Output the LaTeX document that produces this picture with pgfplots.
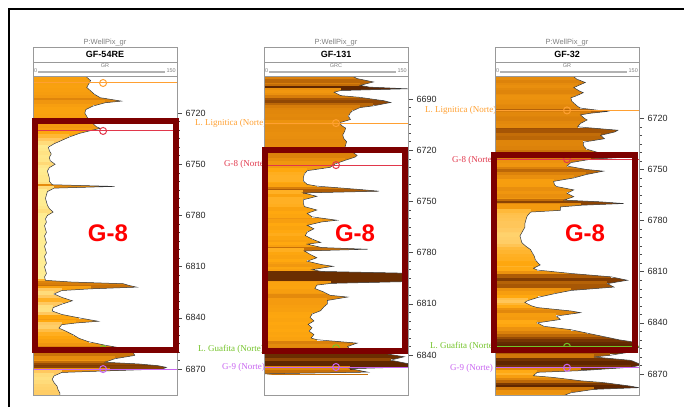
\documentclass[border=0pt]{standalone}
\usepackage{pgfplots}
\usepackage{pgfplotstable}
\pgfplotsset{compat=1.18}
\usepackage{fontspec}
\setmainfont{Liberation Sans}
\newfontfamily\serif{Liberation Serif}
\definecolor{maroon}{RGB}{125,0,0}
\definecolor{lorange}{RGB}{255,160,50}
\definecolor{lred}{RGB}{225,55,75}
\definecolor{lgreen}{RGB}{115,195,40}
\definecolor{lpurple}{RGB}{200,100,240}

\pgfplotstableread{
d gr
6697 55
6699 56
6701 60
6703 58
6705 56
6707 60
6709 64
6711 70
6713 92
6714 75
6716 62
6718 55
6720 54
6722 56
6724 58
6726 62
6728 66
6729 70
6730 62
6732 48
6734 38
6736 30
6738 22
6740 16
6742 17
6744 19
6746 17
6748 18
6750 23
6752 17
6754 15
6756 16
6758 17
6760 17
6762 20
6763 85
6764 22
6766 15
6768 14
6770 13
6772 14
6774 15
6776 17
6778 21
6780 15
6782 13
6784 14
6786 12
6788 13
6790 14
6792 12
6794 13
6796 14
6798 12
6800 13
6802 14
6804 12
6806 13
6808 14
6810 12
6812 13
6814 14
6816 12
6818 13
6819 40
6820 94
6821 100
6822 108
6823 60
6824 30
6826 22
6828 30
6830 41
6832 30
6834 21
6836 20
6838 30
6840 48
6842 68
6843 45
6844 30
6846 27
6848 35
6850 42
6852 48
6854 58
6856 75
6858 95
6860 104
6862 106
6864 85
6866 75
6867 110
6868 130
6869 139
6870 135
6871 80
6872 30
6874 22
6876 20
6878 22
6880 25
6882 26
6884 28
6886 28
}\dA

\pgfplotstableread{
d gr
6676 90
6678 97
6680 114
6682 100
6683 110
6684 150
6685 80
6686 73
6688 80
6689 100
6691 125
6692 132
6694 114
6695 100
6697 92
6698 90
6700 88
6702 90
6704 78
6706 82
6707 85
6709 84
6711 82
6713 83
6715 86
6717 85
6719 84
6721 92
6723 97
6724 95
6726 84
6728 74
6730 69
6732 45
6734 42
6736 41
6738 41
6740 45
6741 55
6743 100
6744 120
6745 41
6747 55
6749 41
6751 41
6753 42
6755 55
6757 45
6759 50
6761 76
6762 60
6764 45
6766 52
6768 45
6770 43
6772 50
6774 59
6775 45
6777 60
6778 108
6779 42
6781 48
6783 55
6785 45
6787 60
6788 72
6790 50
6791 60
6792 146
6794 146
6796 146
6797 146
6798 70
6799 55
6801 53
6803 62
6805 69
6806 87
6808 66
6810 66
6812 62
6814 59
6816 50
6818 48
6820 52
6822 46
6824 50
6826 47
6828 52
6830 49
6831 55
6833 97
6835 87
6837 90
6839 125
6841 146
6843 132
6845 150
6847 150
6848 90
6850 108
6851 0
}\dB

\pgfplotstableread{
d gr
6694 79
6697 85
6699 94
6701 86
6702 82
6704 88
6705 92
6707 84
6708 79
6710 80
6711 82
6713 86
6714 89
6716 117
6717 100
6718 89
6720 93
6721 96
6723 89
6725 86
6727 128
6728 125
6730 110
6732 114
6734 92
6736 92
6738 95
6740 107
6742 121
6743 131
6744 100
6746 79
6748 75
6750 95
6751 113
6753 95
6755 82
6757 61
6759 62
6760 64
6762 82
6764 75
6766 82
6768 72
6769 110
6770 134
6771 90
6772 68
6774 68
6775 37
6777 34
6778 33
6780 32
6782 31
6784 31
6786 29
6788 27
6789 26
6791 27
6793 28
6795 32
6797 37
6799 39
6801 41
6803 42
6805 45
6806 47
6808 40
6809 44
6811 79
6813 121
6815 138
6817 117
6819 124
6821 79
6823 61
6825 45
6827 34
6828 31
6830 38
6831 44
6833 79
6834 89
6836 64
6838 68
6840 44
6842 51
6844 79
6846 96
6848 113
6850 130
6851 142
6853 148
6854 150
6856 146
6857 142
6859 120
6860 103
6862 142
6864 150
6865 150
6866 142
6868 90
6869 44
6871 40
6872 61
6874 90
6875 113
6877 140
6878 150
6879 103
6881 79
6883 70
6885 70
}\dC

\pgfplotsset{
  colormap={grmap}{rgb255(0pt)=(255,246,175); rgb255(15pt)=(255,236,145); rgb255(30pt)=(255,200,95); rgb255(45pt)=(255,168,15); rgb255(75pt)=(240,150,15); rgb255(100pt)=(215,125,10); rgb255(125pt)=(165,85,5); rgb255(150pt)=(95,38,0)},
  trackaxis/.style={
    scale only axis, width=144pt, height=319pt, anchor=north west,
    xmin=0, xmax=150, y dir=reverse,
    xtick=\empty, ytick pos=right, yticklabel pos=right,
    tick align=outside, major tick length=5pt, minor tick length=2.5pt,
    minor y tick num=5,
    axis line style={gray!80, line width=0.6pt},
    every tick/.style={black!70, line width=0.5pt},
    yticklabel style={font=\fontsize{9}{9}\selectfont, text=black!85, /pgf/number format/1000 sep={}},
    /pgf/number format/assume math mode=true,
    axis background/.style={fill=white},
    point meta min=0, point meta max=150,
    colormap name=grmap,
    axis on top,
  },
  combs/.style={point meta=\thisrow{gr}, quiver={u=\thisrow{gr}, v=0, colored=mapped color, every arrow/.append style={line width=5.2pt}}},
}

\newcommand{\header}[3]{%
\begin{scope}[x=1pt,y=1pt,xshift=#1pt]
\node[text=gray, font=\fontsize{7.5}{7.5}\selectfont, inner sep=0] at (72,364.5) {P:WellPix\_gr};
\draw[gray!80, line width=0.6pt] (0,331) rectangle (144,360);
\draw[gray!80, line width=0.5pt] (0,345) -- (144,345);
\node[font=\fontsize{9}{9}\selectfont\bfseries, inner sep=0] at (72,352.5) {#2};
\node[text=gray, font=\fontsize{5.5}{5.5}\selectfont, inner sep=0] at (72,341) {#3};
\draw[gray!60, line width=1.2pt] (5,335) -- (132,335);
\node[font=\fontsize{5.5}{5.5}\selectfont, text=gray, anchor=west, inner sep=0] at (1,336.5) {0};
\node[font=\fontsize{5.5}{5.5}\selectfont, text=gray, anchor=east, inner sep=0] at (143,336.5) {150};
\end{scope}}

\newcommand{\gbox}[5]{%
\begin{scope}[x=1pt,y=1pt]
\draw[maroon, line width=6pt] (#1,#2) rectangle (#3,#4);
\node[text=red, font=\fontsize{24}{24}\selectfont\bfseries] at (#5,174) {G-8};
\end{scope}}

\newcommand{\flab}[4]{\node[anchor=west, text=#1, font=\serif\fontsize{9}{9}\selectfont, inner sep=0] at (#2,#3) {#4};}

\begin{document}
\begin{tikzpicture}
\useasboundingbox (0pt,0pt) rectangle (684pt,407pt);
\draw[black, line width=2pt] (9pt,0pt) -- (9pt,398pt) -- (684pt,398pt);

% ---------- Panel 1 ----------
\begin{axis}[trackaxis, at={(33pt,331pt)}, ymin=6698.3, ymax=6885.2,
  ytick={6720,6750,6780,6810,6840,6870}]
\addplot[combs] table[x expr=0, y=d] {\dA};
\addplot[fill=white, draw=none] table[x=gr, y=d] {\dA} -- (axis cs:160,6886) -- (axis cs:160,6697) -- cycle;
\addplot[black!80, line width=0.5pt] table[x=gr, y=d] {\dA};
\addplot[lorange, line width=1pt] coordinates {(0,6702.4) (150,6702.4)};
\addplot[lred, line width=1pt] coordinates {(0,6730.5) (150,6730.5)};
\addplot[lgreen, line width=1pt] coordinates {(0,6858.3) (150,6858.3)};
\addplot[lpurple, line width=1pt] coordinates {(0,6870) (150,6870)};
\addplot[only marks, mark=o, mark size=3.5pt, lorange, line width=1pt] coordinates {(73,6702.4)};
\addplot[only marks, mark=o, mark size=3.5pt, lred, line width=1pt] coordinates {(73,6730.5)};
\addplot[only marks, mark=o, mark size=3.5pt, lgreen, line width=1pt] coordinates {(73,6858.3)};
\addplot[only marks, mark=o, mark size=3.5pt, lpurple, line width=1pt] coordinates {(73,6870)};
\end{axis}
\header{33}{GF-54RE}{GR}
\gbox{35}{286}{175.5}{57}{108}

% ---------- Panel 2 ----------
\begin{scope}[x=1pt,y=1pt]
\flab{lorange}{195}{284}{L. Lignitica (Norte)}
\flab{lred}{224}{243}{G-8 (Norte)}
\flab{lgreen}{198}{58}{L. Guafita (Norte)}
\flab{lpurple}{222}{40}{G-9 (Norte)}
\end{scope}
\begin{axis}[trackaxis, at={(264pt,331pt)}, ymin=6676.5, ymax=6863.4,
  ytick={6690,6720,6750,6780,6810,6840}]
\addplot[combs] table[x expr=0, y=d] {\dB};
\addplot[fill=white, draw=none] table[x=gr, y=d] {\dB} -- (axis cs:160,6864) -- (axis cs:0,6864) -- (axis cs:0,6851) -- (axis cs:160,6851) -- (axis cs:160,6675) -- cycle;
\addplot[black!80, line width=0.5pt] table[x=gr, y=d] {\dB};
\addplot[lorange, line width=1pt] coordinates {(0,6704.1) (150,6704.1)};
\addplot[lred, line width=1pt] coordinates {(0,6728.7) (150,6728.7)};
\addplot[lgreen, line width=1pt] coordinates {(0,6836) (150,6836)};
\addplot[lpurple, line width=1pt] coordinates {(0,6847) (150,6847)};
\addplot[only marks, mark=o, mark size=3.5pt, lorange, line width=1pt] coordinates {(75,6704.1)};
\addplot[only marks, mark=o, mark size=3.5pt, lred, line width=1pt] coordinates {(75,6728.7)};
\addplot[only marks, mark=o, mark size=3.5pt, lgreen, line width=1pt] coordinates {(75,6836)};
\addplot[only marks, mark=o, mark size=3.5pt, lpurple, line width=1pt] coordinates {(75,6847)};
\end{axis}
\header{264}{GF-131}{GRC}
\gbox{264.5}{257}{404.5}{56.5}{355}

% ---------- Panel 3 ----------
\begin{scope}[x=1pt,y=1pt]
\flab{lorange}{425}{297}{L. Lignitica (Norte)}
\flab{lred}{452}{247}{G-8 (Norte)}
\flab{lgreen}{430}{61}{L. Guafita (Norte)}
\flab{lpurple}{450}{39}{G-9 (Norte)}
\end{scope}
\begin{axis}[trackaxis, at={(495pt,331pt)}, ymin=6695.2, ymax=6882.3,
  ytick={6720,6750,6780,6810,6840,6870}]
\addplot[combs] table[x expr=0, y=d] {\dC};
\addplot[fill=white, draw=none] table[x=gr, y=d] {\dC} -- (axis cs:160,6886) -- (axis cs:160,6693) -- cycle;
\addplot[black!80, line width=0.5pt] table[x=gr, y=d] {\dC};
\addplot[lorange, line width=1pt] coordinates {(0,6715.4) (150,6715.4)};
\addplot[lred, line width=1pt] coordinates {(0,6744) (150,6744)};
\addplot[lgreen, line width=1pt] coordinates {(0,6854) (150,6854)};
\addplot[lpurple, line width=1pt] coordinates {(0,6866.3) (150,6866.3)};
\addplot[only marks, mark=o, mark size=3.5pt, lorange, line width=1pt] coordinates {(75,6715.4)};
\addplot[only marks, mark=o, mark size=3.5pt, lred, line width=1pt] coordinates {(75,6744)};
\addplot[only marks, mark=o, mark size=3.5pt, lgreen, line width=1pt] coordinates {(75,6854)};
\addplot[only marks, mark=o, mark size=3.5pt, lpurple, line width=1pt] coordinates {(75,6866.3)};
\end{axis}
\header{495}{GF-32}{GR}
\gbox{494}{251.5}{634.5}{57}{585}
\end{tikzpicture}
\end{document}
